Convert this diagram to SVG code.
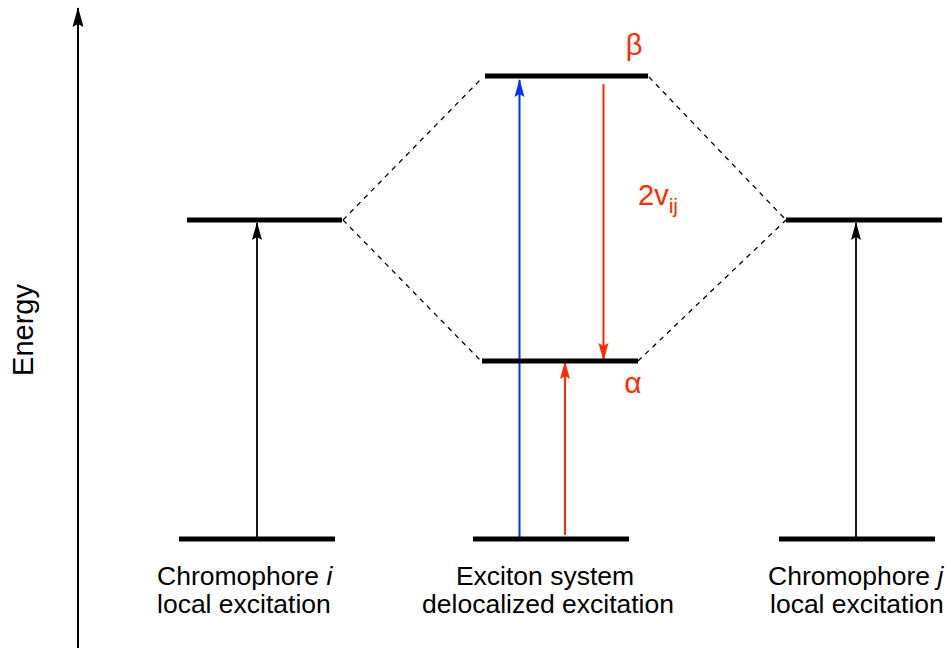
<svg xmlns="http://www.w3.org/2000/svg" width="951" height="648" viewBox="0 0 951 648">
<defs>
<style>
.lvl{stroke:#000;stroke-width:5;fill:none}
.dash{stroke:#000;stroke-width:1.3;stroke-dasharray:5,5;fill:none}
.lbl{font-family:"Liberation Sans",Arial,sans-serif;font-size:26.5px;fill:#000}
.red{fill:#ff2a00;font-family:"Liberation Sans",Arial,sans-serif}
</style>
<marker id="akBig" viewBox="0 0 20 12" refX="19" refY="6" markerWidth="20" markerHeight="12" markerUnits="userSpaceOnUse" orient="auto"><path d="M0,0.5 L20,6 L0,11.5 L3,6 Z" fill="#000"/></marker>
<marker id="ab" viewBox="0 0 18 11" refX="17" refY="5.5" markerWidth="18" markerHeight="11" markerUnits="userSpaceOnUse" orient="auto"><path d="M0,0.5 L18,5.5 L0,10.5 L3,5.5 Z" fill="#0033ff"/></marker>
<marker id="ar" viewBox="0 0 18 11" refX="17" refY="5.5" markerWidth="18" markerHeight="11" markerUnits="userSpaceOnUse" orient="auto"><path d="M0,0.5 L18,5.5 L0,10.5 L3,5.5 Z" fill="#ff2a00"/></marker>
<marker id="akm" viewBox="0 0 18 11" refX="17" refY="5.5" markerWidth="18" markerHeight="11" markerUnits="userSpaceOnUse" orient="auto"><path d="M0,0.5 L18,5.5 L0,10.5 L3,5.5 Z" fill="#000"/></marker>
</defs>
<rect width="951" height="648" fill="#fff"/>
<g id="axis">
<line x1="78" y1="648" x2="78" y2="8" stroke="#000" stroke-width="2" marker-end="url(#akBig)"/>
<text class="lbl" transform="translate(33,330) rotate(-90)" text-anchor="middle" style="font-size:29px">Energy</text>
</g>
<g id="connectors">
<line class="dash" x1="343" y1="220" x2="483" y2="77"/>
<line class="dash" x1="343" y1="220" x2="481" y2="361"/>
<line class="dash" x1="649" y1="77" x2="786" y2="220"/>
<line class="dash" x1="638" y1="361" x2="786" y2="220"/>
<line x1="257" y1="537" x2="257" y2="223" stroke="#000" stroke-width="1.8" marker-end="url(#akm)"/>
<line x1="856" y1="537" x2="856" y2="223" stroke="#000" stroke-width="1.8" marker-end="url(#akm)"/>
<line x1="519.5" y1="537" x2="519.5" y2="80" stroke="#0033ff" stroke-width="2" marker-end="url(#ab)"/>
<line x1="565" y1="535" x2="565" y2="362" stroke="#ff2a00" stroke-width="2" marker-end="url(#ar)"/>
<line x1="603.5" y1="84" x2="603.5" y2="360" stroke="#ff2a00" stroke-width="2" marker-end="url(#ar)"/>
</g>
<g id="chromophore-i">
<line class="lvl" x1="187" y1="220" x2="342" y2="220"/>
<line class="lvl" x1="179" y1="539" x2="335" y2="539"/>
<text class="lbl" x="157" y="585">Chromophore <tspan font-style="italic">i</tspan></text>
<text class="lbl" x="157" y="613">local excitation</text>
</g>
<g id="exciton">
<line class="lvl" x1="485" y1="76" x2="648" y2="76"/>
<line class="lvl" x1="482" y1="361" x2="638" y2="361"/>
<line class="lvl" x1="473" y1="539" x2="629" y2="539"/>
<text class="red" x="634" y="55" text-anchor="middle" style="font-size:29px">β</text>
<text class="red" x="633" y="393" text-anchor="middle" style="font-size:30px">α</text>
<text class="red" x="638" y="205" style="font-size:29px">2v<tspan dy="8" style="font-size:21px">ij</tspan></text>
<text class="lbl" x="545" y="585" text-anchor="middle">Exciton system</text>
<text class="lbl" x="548" y="613" text-anchor="middle">delocalized excitation</text>
</g>
<g id="chromophore-j">
<line class="lvl" x1="786" y1="220" x2="942" y2="220"/>
<line class="lvl" x1="779" y1="539" x2="935" y2="539"/>
<text class="lbl" x="768" y="585">Chromophore <tspan font-style="italic">j</tspan></text>
<text class="lbl" x="770" y="613">local excitation</text>
</g>
</svg>
